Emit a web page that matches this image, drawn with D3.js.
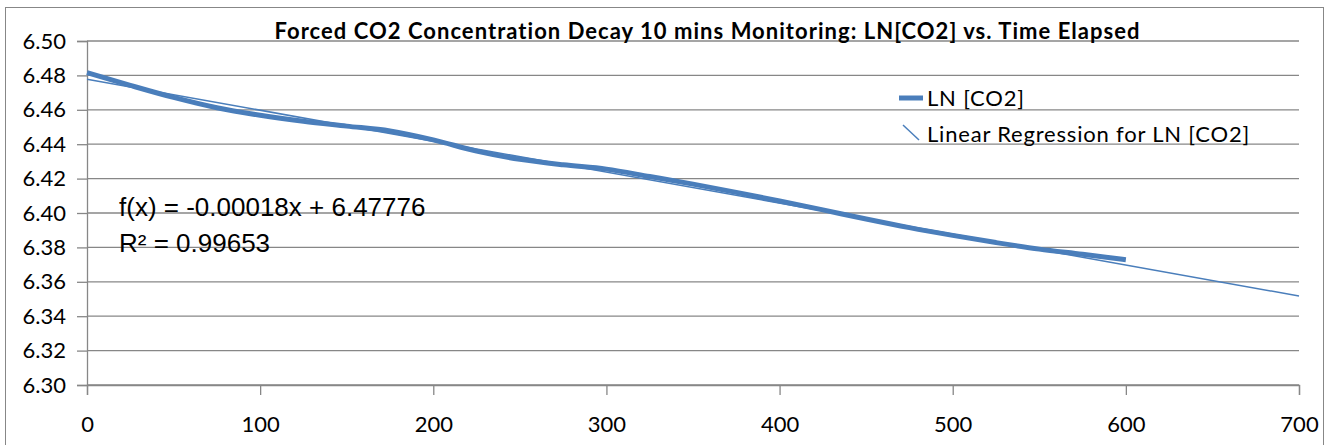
<!DOCTYPE html>
<html>
<head>
<meta charset="utf-8">
<script src="https://cdnjs.cloudflare.com/ajax/libs/d3/7.8.5/d3.min.js"></script>
<style>
  body { margin: 0; background: #fff; }
  svg { display: block; font-variant-ligatures: none; }
</style>
</head>
<body>
<div id="chart"></div>
<script>
/*
 * data
 */
const timeSec = [0, 25, 50, 75, 100, 125, 150, 175, 200, 225, 250, 275, 300,
  325, 350, 375, 400, 425, 450, 475, 500, 525, 550, 575, 600]
const lnCO2 = [6.4816, 6.4742, 6.4672, 6.4612, 6.4568, 6.4533, 6.4505, 6.4477,
  6.4425, 6.4360, 6.4312, 6.4280, 6.4255, 6.4212, 6.4168, 6.4120, 6.4070,
  6.4018, 6.3965, 6.3915, 6.3870, 6.3828, 6.3790, 6.3760, 6.3728]
const fitSlope = -0.00018
const fitIntercept = 6.47776
const fitRange = [0, 700]
const xTicks = [0, 100, 200, 300, 400, 500, 600, 700]
const yTicks = [6.30, 6.32, 6.34, 6.36, 6.38, 6.40, 6.42, 6.44, 6.46, 6.48, 6.50]
const legendLabels = ['LN [CO2]', 'Linear Regression for LN [CO2]']
const title = 'Forced CO2 Concentration Decay 10 mins Monitoring: LN[CO2] vs. Time Elapsed'

/*
 * svg setup
 */
const w = 1333
const h = 445
const blue = '#4a7ebb'
const grey = '#878787'
const font = 'Lato, "Open Sans", sans-serif'

const svg = d3.select('#chart')
  .append('svg')
  .attr('width', w)
  .attr('height', h)

// outer chart frame (bottom edge falls outside the picture)
svg.append('rect')
  .attr('x', 5.5)
  .attr('y', 7.5)
  .attr('width', 1318)
  .attr('height', 460)
  .style('fill', 'none')
  .style('stroke', grey)
  .style('stroke-width', 1)

const x = d3.scaleLinear().domain([0, 700]).range([87, 1299])
const y = d3.scaleLinear().domain([6.30, 6.50]).range([385, 41])

// horizontal gridlines
svg.append('g')
  .selectAll('line')
  .data(yTicks)
  .enter()
  .append('line')
  .attr('x1', x(0))
  .attr('x2', x(700))
  .attr('y1', d => y(d))
  .attr('y2', d => y(d))
  .style('stroke', grey)
  .style('stroke-width', 1.3)

// axes
const yAxis = svg.append('g')
  .attr('transform', `translate(${x(0)},0)`)
  .call(d3.axisLeft(y).tickValues(yTicks).tickFormat(d3.format('.2f')).tickSize(10).tickPadding(11))
const xAxis = svg.append('g')
  .attr('transform', `translate(0,${y(6.30)})`)
  .call(d3.axisBottom(x).tickValues(xTicks).tickFormat(d3.format('d')).tickSize(10).tickPadding(21))

;[yAxis, xAxis].forEach(ax => {
  ax.select('.domain').style('stroke', grey).style('stroke-width', 1.3)
  ax.selectAll('.tick line').style('stroke', grey).style('stroke-width', 1.3)
  ax.selectAll('.tick text')
    .style('font-family', font)
    .style('font-size', '22px')
    .style('fill', '#000')
})

// regression line
svg.append('line')
  .attr('x1', x(fitRange[0]))
  .attr('y1', y(fitIntercept + fitSlope * fitRange[0]))
  .attr('x2', x(fitRange[1]))
  .attr('y2', y(fitIntercept + fitSlope * fitRange[1]))
  .style('stroke', blue)
  .style('stroke-width', 1.5)

// data series
const line = d3.line()
  .x((d, i) => x(timeSec[i]))
  .y(d => y(d))
  .curve(d3.curveMonotoneX)

svg.append('path')
  .datum(lnCO2)
  .attr('d', line)
  .style('fill', 'none')
  .style('stroke', blue)
  .style('stroke-width', 5)
  .style('stroke-linecap', 'butt')

// title
svg.append('text')
  .attr('x', 707)
  .attr('y', 39)
  .attr('text-anchor', 'middle')
  .attr('textLength', 865)
  .attr('lengthAdjust', 'spacing')
  .style('font-family', font)
  .style('font-weight', 'bold')
  .style('font-size', '22px')
  .text(title)

// trendline equation
const eq = svg.append('g')
  .style('font-family', '"Liberation Sans", Arial, sans-serif')
  .style('font-size', '26px')
eq.append('text')
  .attr('x', 119)
  .attr('y', 216)
  .text(`f(x) = ${fitSlope.toFixed(5)}x + ${fitIntercept.toFixed(5)}`)
eq.append('text')
  .attr('x', 119)
  .attr('y', 252)
  .text('R² = 0.99653')

// legend
const legend = svg.append('g')
  .style('font-family', font)
  .style('font-size', '22px')
  .style('letter-spacing', '0.8px')
legend.append('line')
  .attr('x1', 899).attr('x2', 923)
  .attr('y1', 98).attr('y2', 98)
  .style('stroke', blue)
  .style('stroke-width', 5)
legend.append('line')
  .attr('x1', 903).attr('y1', 125)
  .attr('x2', 919).attr('y2', 140)
  .style('stroke', blue)
  .style('stroke-width', 1.5)
legend.selectAll('text.lbl')
  .data(legendLabels)
  .enter()
  .append('text')
  .attr('class', 'lbl')
  .attr('x', 927)
  .attr('y', (d, i) => 106 + i * 36)
  .text(d => d)
</script>
</body>
</html>
